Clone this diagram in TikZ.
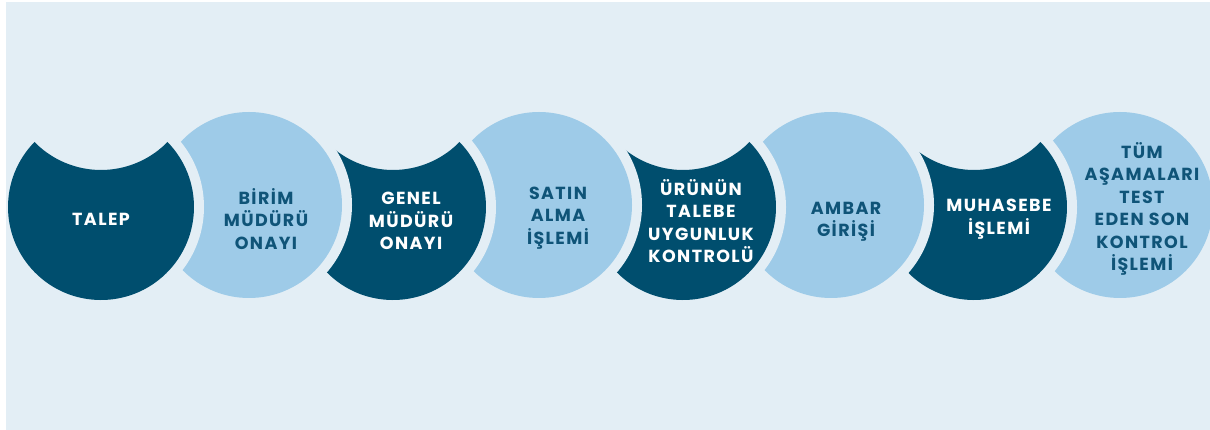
\documentclass[tikz,border=0pt]{standalone}
\usepackage{fontspec}
\setmainfont{Poppins}[LetterSpace=8]
\definecolor{bgc}{HTML}{E3EEF5}
\definecolor{darkc}{HTML}{004E6E}
\definecolor{lightc}{HTML}{9ECBE8}
\definecolor{txtd}{HTML}{0F5478}
\begin{document}
\begin{tikzpicture}[x=1pt,y=-1pt,
  gapline/.style={draw=bgc, line width=20pt},
  lab/.style={align=center, inner sep=0pt, font=\fontsize{17.5}{22.5}\selectfont\bfseries},
  labw/.style={lab, text=white},
  labd/.style={lab, text=txtd},
  darkdisc/.pic={
    \draw[gapline] (0,0) circle (93);
    \fill[darkc] (66.48,-65) arc[start angle=-44.36, end angle=224.36, radius=93]
      arc[start angle=135.64, end angle=44.36, radius=93] -- cycle;
  },
  lightdisc/.pic={
    \draw[gapline] (0,0) circle (93);
    \fill[lightc] (0,0) circle (93);
  }]
\useasboundingbox (0,0) rectangle (1210,430);
\fill[bgc] (6,2) rectangle (1210,430);
\begin{scope}
\clip (6,2) rectangle (1210,430);
\pic at (1120,205) {lightdisc};
\pic at (974,207) {darkdisc};
\pic at (831,205) {lightdisc};
\pic at (683,207) {darkdisc};
\pic at (539,205) {lightdisc};
\pic at (393,207) {darkdisc};
\pic at (249,205) {lightdisc};
\pic at (101,207) {darkdisc};
\end{scope}
% labels
\node[labw] (talep) at (101,219) {TALEP};
\node[labd] (birim) at (266,219) {BİRİM\\MÜDÜRÜ\\ONAYI};
\node[labw] (genel) at (411,221) {GENEL\\MÜDÜRÜ\\ONAYI};
\node[labd] (satin) at (558,218) {SATIN\\ALMA\\İŞLEMİ};
\node[labw] (urun) at (701,221) {ÜRÜNÜN\\TALEBE\\UYGUNLUK\\KONTROLÜ};
\node[labd] (ambar) at (846,222) {AMBAR\\GİRİŞİ};
\node[labw] (muh) at (999,219) {MUHASEBE\\İŞLEMİ};
\node[labd] (tum) at (1142,209) {TÜM\\AŞAMALARI\\TEST\\EDEN SON\\KONTROL\\İŞLEMİ};
\end{tikzpicture}
\end{document}
